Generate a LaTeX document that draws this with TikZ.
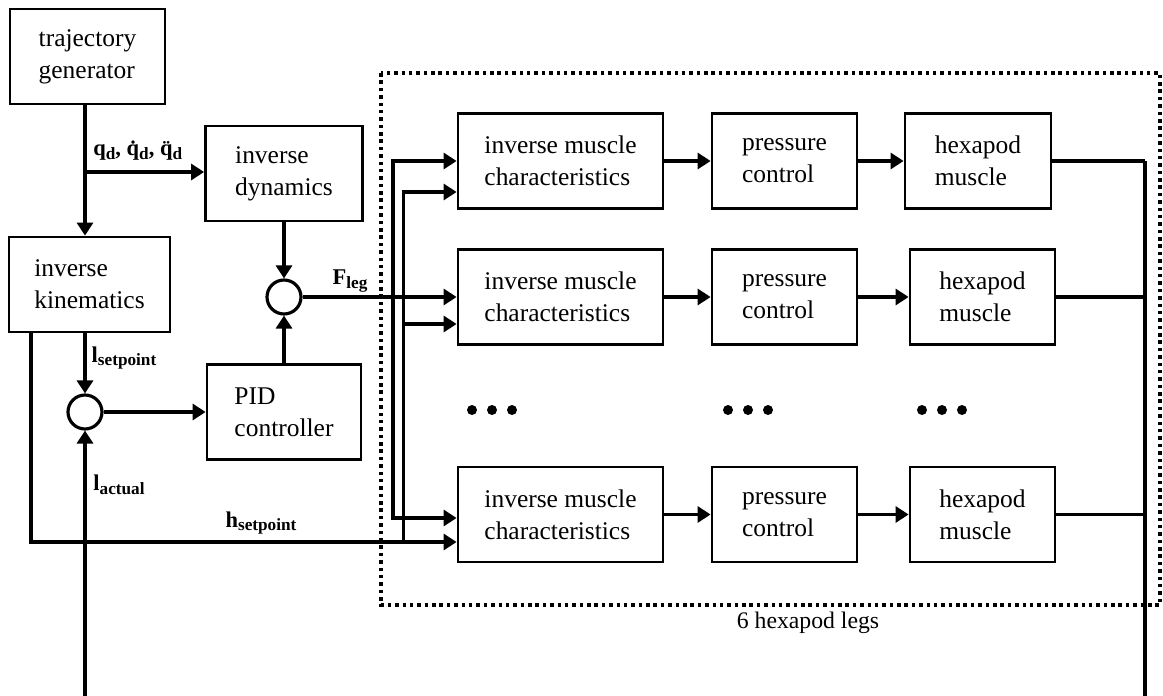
\documentclass[tikz,border=0pt]{standalone}
\usepackage{fontspec}
\setmainfont{Liberation Serif}
\usetikzlibrary{arrows.meta}

\newcommand{\lsub}[1]{\raisebox{-0.35ex}{\fontsize{9.8}{10}\selectfont\bfseries #1}}

\begin{document}
\begin{tikzpicture}[
  block/.style={
    rectangle,
    draw,
    line width=1.6pt,
    align=left,
    inner sep=0pt,
    minimum height=1.9cm,
    font=\fontsize{14.5}{18.2}\selectfont
  },
  sumpt/.style={
    circle,
    draw,
    line width=1.8pt,
    minimum size=6.8mm,
    inner sep=0pt
  },
  lbl/.style={
    inner sep=0pt,
    font=\fontsize{12.8}{14}\selectfont\bfseries
  },
  sig/.style={
    -{Triangle[length=2.6mm, width=3.2mm]},
    line width=1.8pt
  },
  wire/.style={
    line width=1.8pt
  }
]
  \useasboundingbox (0,0) rectangle (23.26,-13.92);

  % controller part
  \node[block, minimum width=3.1cm] (tg) at (1.75,-1.13) {trajectory\\generator};
  \node[block, minimum width=3.22cm] (ik) at (1.79,-5.69) {inverse\\kinematics};
  \node[block, minimum width=3.14cm] (id) at (5.68,-3.47) {inverse\\dynamics};
  \node[block, minimum width=3.08cm] (pid) at (5.68,-8.24) {PID\\controller};
  \node[sumpt] (sum1) at (5.68,-5.94) {};
  \node[sumpt] (sum2) at (1.70,-8.24) {};

  % leg part
  \node[block, minimum width=4.1cm] (imc1) at (11.21,-3.22) {inverse muscle\\characteristics};
  \node[block, minimum width=4.1cm] (imc2) at (11.21,-5.94) {inverse muscle\\characteristics};
  \node[block, minimum width=4.1cm] (imc3) at (11.21,-10.29) {inverse muscle\\characteristics};
  \node[block, minimum width=2.9cm] (pc1) at (15.69,-3.22) {pressure\\control};
  \node[block, minimum width=2.9cm] (pc2) at (15.69,-5.94) {pressure\\control};
  \node[block, minimum width=2.9cm] (pc3) at (15.69,-10.29) {pressure\\control};
  \node[block, minimum width=2.92cm] (hm1) at (19.56,-3.22) {hexapod\\muscle};
  \node[block, minimum width=2.9cm] (hm2) at (19.65,-5.94) {hexapod\\muscle};
  \node[block, minimum width=2.9cm] (hm3) at (19.65,-10.29) {hexapod\\muscle};

  \draw[line width=2pt, dash pattern=on 2pt off 2.2pt] (7.62,-1.46) rectangle (23.2,-12.1);
  \node[font=\fontsize{13.5}{16}\selectfont] (legs) at (16.16,-12.46) {6 hexapod legs};

  \foreach \cx in {9.84,14.96,18.84}
    \foreach \dx in {-0.4,0,0.4}
      \fill (\cx+\dx,-8.2) circle (0.1);

  \coordinate (qbr) at (1.70,-3.44);
  \coordinate (jA) at (7.86,-5.94);
  \coordinate (jB) at (8.07,-10.84);
  \coordinate (hk) at (0.62,-5.69);
  \coordinate (fbL) at (1.70,-13.92);
  \coordinate (fbR) at (22.9,-13.92);

  \draw[sig] (tg.south -| qbr) -- (ik.north -| qbr);
  \draw[sig] (qbr) -- (id.west |- qbr);
  \draw[sig] (id) -- (sum1);
  \draw[sig] (pid) -- (sum1);
  \draw[sig] (ik.south -| sum2) -- (sum2);
  \draw[sig] (sum2) -- (pid);
  \draw[sig] (fbL) -- (sum2);
  \draw[sig] (sum1) -- (imc2);
  \draw[sig] (hk |- ik.south) |- ([yshift=-0.55cm]imc3.west);

  \draw[sig] (jA) |- (imc1.west);
  \draw[sig] (jA) |- ([yshift=-0.07cm]imc3.west);
  \draw[sig] (jB) |- ([yshift=-0.62cm]imc1.west);
  \draw[sig] (jB |- imc2.west) ++(0,-0.54) -- ([yshift=-0.54cm]imc2.west);

  \foreach \r in {1,2,3} {
    \draw[sig] (imc\r) -- (pc\r);
    \draw[sig] (pc\r) -- (hm\r);
    \draw[wire] (hm\r.east) -- (hm\r.east -| fbR);
  }
  \draw[wire] (hm1.east -| fbR) -- (fbR);

  \node[lbl, anchor=south west] (qlbl) at (1.86,-3.22) {q\lsub{d}, \.{q}\lsub{d}, \"{q}\lsub{d}};
  \node[lbl] (flbl) at (7.0,-5.62) {F\lsub{leg}};
  \node[lbl] (lslbl) at (2.48,-7.16) {l\lsub{setpoint}};
  \node[lbl] (lalbl) at (2.38,-9.7) {l\lsub{actual}};
  \node[lbl] (hlbl) at (5.22,-10.46) {h\lsub{setpoint}};
\end{tikzpicture}
\end{document}
